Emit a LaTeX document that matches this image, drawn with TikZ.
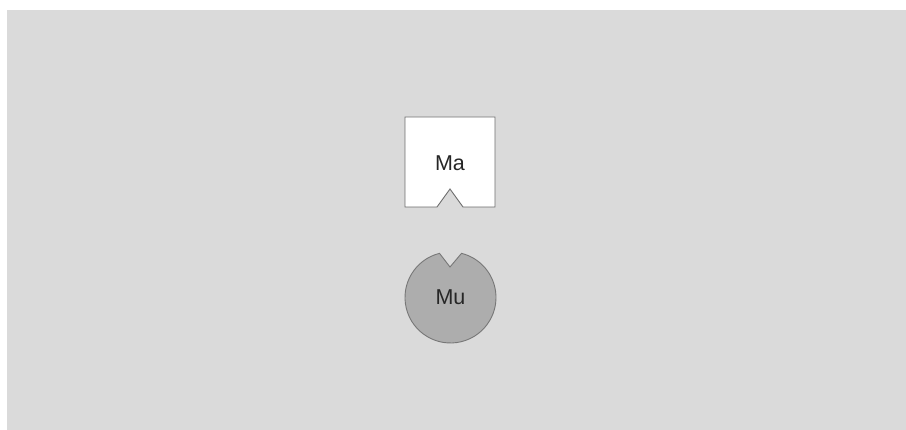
\documentclass[tikz,border=0pt]{standalone}
\usepackage{fontspec}
\setmainfont{Liberation Sans}
\usetikzlibrary{calc}
\definecolor{pagegrey}{HTML}{DADADA}
\definecolor{edgegrey}{HTML}{6E6E6E}
\definecolor{mufill}{HTML}{ADADAD}
\definecolor{muedge}{HTML}{777777}
\begin{document}
\begin{tikzpicture}[x=1pt,y=1pt,
  lbl/.style={inner sep=0pt,font=\fontsize{21.5}{24}\selectfont,text=black!85}]
\useasboundingbox (0,0) rectangle (906,430);
\fill[white] (0,0) rectangle (906,430);
\fill[pagegrey] (7,0) rectangle (906,420);
% Ma: white square with a notch at the bottom
\draw[edgegrey,fill=white,line width=0.9pt]
  (405,313) -- (495,313) -- (495,223) -- (463,223) -- (450,241) -- (437,223) -- (405,223) -- cycle;
\node[lbl] (ma) at (450,267) {Ma};
% Mu: grey disc with a notch at the top
\coordinate (muc) at (450.5,132.5);
\draw[muedge,fill=mufill,line width=0.9pt]
  ($(muc)+(104:45.5)$) arc[start angle=104,end angle=436,radius=45.5] -- (450,163) -- cycle;
\node[lbl] (mu) at (450.5,133) {Mu};
\end{tikzpicture}
\end{document}
